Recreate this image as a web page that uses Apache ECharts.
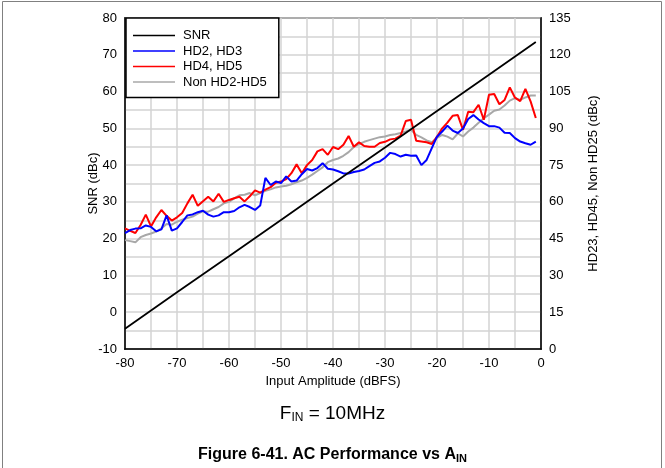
<!DOCTYPE html>
<html><head><meta charset="utf-8">
<script src="https://cdn.jsdelivr.net/npm/echarts@6/dist/echarts.min.js"></script>
<style>html,body{margin:0;padding:0;background:#fff}#c{width:665px;height:468px}</style>
</head><body><div id="c"></div>
<script>
// Input amplitude (dBFS)
const xs = [-80,-79,-78,-77,-76,-75,-74,-73,-72,-71,-70,-69,-68,-67,-66,-65,-64,-63,-62,-61,-60,-59,-58,-57,-56,-55,-54,-53,-52,-51,-50,-49,-48,-47,-46,-45,-44,-43,-42,-41,-40,-39,-38,-37,-36,-35,-34,-33,-32,-31,-30,-29,-28,-27,-26,-25,-24,-23,-22,-21,-20,-19,-18,-17,-16,-15,-14,-13,-12,-11,-10,-9,-8,-7,-6,-5,-4,-3,-2,-1];
// SNR (dBc), left axis
const snrX = [-80,-70,-60,-50,-40,-30,-20,-10,-1];
const snrY = [-4.5,5.4,15.2,25.1,35.0,44.8,54.7,64.6,73.5];
// HD2,HD3 (dBc), right axis
const hd23 = [47.3,48.5,49.1,49.2,50.4,49.8,48.0,48.8,54.5,48.3,49.2,51.8,54.5,54.9,55.8,56.4,54.8,54.0,54.5,55.8,55.8,56.3,57.8,58.8,57.9,56.7,58.5,69.8,66.9,68.3,67.7,70.4,68.3,68.7,71.3,73.4,72.8,73.8,75.8,73.5,73.2,72.5,71.6,71.6,72.2,72.6,73.2,74.6,75.9,76.5,78.0,80.0,79.5,78.5,79.2,78.8,78.9,75.0,77.1,81.9,86.6,88.7,91.1,89.1,88.1,89.9,93.8,95.4,93.6,92.1,90.9,90.9,90.3,88.2,88.1,86.0,84.6,83.9,83.3,84.6];
// HD4,HD5 (dBc), right axis
const hd45 = [49.2,48.2,47.3,50.6,54.8,50.0,53.7,56.7,54.3,52.4,53.7,55.5,59.4,62.9,58.4,60.3,62.1,60.2,63.3,60.0,60.8,61.5,62.1,60.2,62.3,64.7,63.8,65.0,66.0,67.8,68.3,69.3,71.7,75.3,71.7,75.0,77.1,80.6,81.5,79.2,82.4,81.5,83.3,86.9,82.5,84.3,82.8,82.5,82.5,84.0,84.5,85.5,85.8,87.0,93.0,93.5,84.9,84.6,84.3,83.6,86.6,90.0,92.3,95.1,95.4,89.4,96.8,96.6,99.6,93.5,103.7,104.0,99.8,101.6,106.7,102.5,101.1,106.1,101.0,94.2];
// Non HD2-HD5 (dBc), right axis
const nonHd = [44.4,44.0,43.5,45.6,46.5,47.1,47.9,49.2,51.0,50.7,51.9,52.7,53.4,54.0,55.2,56.1,56.0,57.0,57.9,59.4,60.0,61.4,62.7,62.9,63.6,62.7,63.6,64.5,65.1,65.9,66.3,66.6,67.2,68.0,68.7,69.8,71.1,72.6,74.1,76.2,77.1,77.7,78.8,80.3,82.4,83.6,84.5,85.2,85.8,86.4,86.7,87.3,87.6,88.1,88.7,89.4,87.3,86.3,85.1,84.3,86.1,87.3,86.6,85.5,87.9,86.7,88.7,90.3,92.3,94.1,95.6,97.2,97.7,99.3,101.3,102.3,101.6,102.6,103.4,103.4];

const seriesNames = ['SNR','HD2, HD3','HD4, HD5','Non HD2-HD5'];
const pair = (a,b)=>a.map((v,i)=>[v,b[i]]);
const FONT = '"Liberation Sans", Arial, sans-serif';

const chart = echarts.init(document.getElementById('c'), null, {renderer:'canvas'});
chart.setOption({
  animation:false,
  backgroundColor:'#fff',
  textStyle:{fontFamily:FONT},
  graphic:[{type:'rect',shape:{x:2.5,y:1.5,width:659,height:480},style:{fill:'none',stroke:'#808080',lineWidth:1},silent:true,z:-10}],
  title:[
    {text:'{a|F}{s|IN}{a| = 10MHz}',left:'center',top:399,
     textStyle:{fontWeight:'normal',rich:{a:{fontSize:19,fontWeight:'normal',fontFamily:FONT,color:'#000'},s:{fontSize:12,fontWeight:'normal',fontFamily:FONT,color:'#000',verticalAlign:'bottom',padding:[8,0,0,0]}}}},
    {text:'{a|Figure 6-41. AC Performance vs A}{s|IN}',left:'center',top:441,
     textStyle:{rich:{a:{fontSize:16,fontWeight:'bold',fontFamily:FONT,color:'#000'},s:{fontSize:11,fontWeight:'bold',fontFamily:FONT,color:'#000',verticalAlign:'bottom',padding:[7,0,0,0]}}}}
  ],
  grid:{left:125,right:124,top:18,bottom:119,show:true,borderColor:'#000',borderWidth:1.5,backgroundColor:'transparent'},
  legend:{
    orient:'vertical',left:126,top:18,
    data:seriesNames,
    backgroundColor:'#fff',borderColor:'#000',borderWidth:1.5,borderRadius:0,
    padding:[11,12,9,7],itemGap:2.5,itemWidth:42,itemHeight:13,
    icon:'path://M0,6 L42,6 L42,7.5 L0,7.5 Z',
    textStyle:{fontSize:13,color:'#000',fontFamily:FONT,padding:[0,0,0,3]},
    z:10
  },
  xAxis:{
    type:'value',min:-80,max:0,interval:10,
    name:'Input Amplitude (dBFS)',nameLocation:'middle',nameGap:25,
    nameTextStyle:{fontSize:13,color:'#000',fontFamily:FONT},
    axisLine:{show:true,onZero:false,lineStyle:{color:'#000',width:1.5}},
    axisTick:{show:false},
    axisLabel:{fontSize:13,color:'#000',margin:8,fontFamily:FONT},
    splitLine:{show:true,lineStyle:{color:'#d3d3d3',width:1.5}},
    minorTick:{show:false,splitNumber:2},
    minorSplitLine:{show:true,lineStyle:{color:'#d3d3d3',width:1.5}}
  },
  yAxis:[{
    type:'value',min:-10,max:80,interval:10,position:'left',
    name:'SNR (dBc)',nameLocation:'middle',nameRotate:90,nameGap:25,nameMoveOverlap:false,
    nameTextStyle:{fontSize:13,color:'#000',fontFamily:FONT},
    axisLine:{show:true,onZero:false,lineStyle:{color:'#000',width:1.5}},
    axisTick:{show:false},
    axisLabel:{fontSize:13,color:'#000',margin:8,fontFamily:FONT},
    splitLine:{show:true,lineStyle:{color:'#d3d3d3',width:1.5}},
    minorTick:{show:false,splitNumber:2},
    minorSplitLine:{show:true,lineStyle:{color:'#d3d3d3',width:1.5}}
  },{
    type:'value',min:0,max:135,interval:15,position:'right',
    name:'HD23, HD45, Non HD25 (dBc)',nameLocation:'middle',nameRotate:90,nameGap:46,
    nameTextStyle:{fontSize:13,color:'#000',fontFamily:FONT},
    axisLine:{show:true,onZero:false,lineStyle:{color:'#000',width:1.5}},
    axisTick:{show:false},
    axisLabel:{fontSize:13,color:'#000',margin:8,fontFamily:FONT},
    splitLine:{show:false}
  }],
  series:[
    {name:seriesNames[0],type:'line',yAxisIndex:0,data:pair(snrX,snrY),showSymbol:false,lineStyle:{color:'#000',width:1.8},itemStyle:{color:'#000'},z:5},
    {name:seriesNames[1],type:'line',yAxisIndex:1,data:pair(xs,hd23),showSymbol:false,lineStyle:{color:'#0000ff',width:2},itemStyle:{color:'#0000ff'},z:4},
    {name:seriesNames[2],type:'line',yAxisIndex:1,data:pair(xs,hd45),showSymbol:false,lineStyle:{color:'#ff0000',width:2},itemStyle:{color:'#ff0000'},z:3},
    {name:seriesNames[3],type:'line',yAxisIndex:1,data:pair(xs,nonHd),showSymbol:false,lineStyle:{color:'#a8a8a8',width:2},itemStyle:{color:'#a8a8a8'},z:2}
  ]
});
</script></body></html>
